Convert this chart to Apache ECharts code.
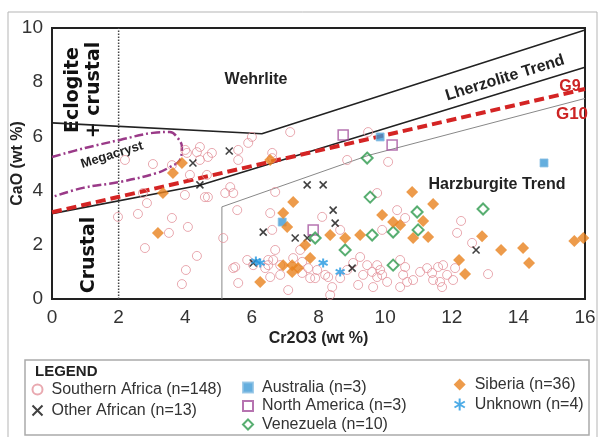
<!DOCTYPE html>
<html>
<head>
<meta charset="utf-8">
<script src="https://cdn.jsdelivr.net/npm/echarts@6/dist/echarts.min.js"></script>
<style>
  html, body { margin: 0; padding: 0; background: #fff; }
  #main { width: 604px; height: 437px; }
</style>
</head>
<body>
<div id="main"></div>
<script>
// garnet points, Cr2O3 (x) vs CaO (y), wt %
var southernAfrica = [
  [2.19,5.13],[3.03,4.98],[3.6,4.94],[4.14,4.58],[4.05,5.39],[4.35,5.42],[4.68,5.24],[4.65,4.58],
  [3.99,3.84],[4.59,3.76],[2.73,3.91],[2.85,3.54],[1.98,3.03],[2.58,3.14],[3.6,2.99],[4.08,2.66],
  [3.51,2.44],[2.79,1.88],[4.35,1.59],[4.02,1.07],[3.9,0.55],[4.0,5.5],
  [6.0,5.98],[5.89,5.76],[7.15,6.16],[9.49,6.16],[4.44,5.61],[4.8,5.39],[6.61,5.39],[5.59,5.5],
  [4.44,5.13],[5.59,5.13],[4.68,3.76],[5.14,2.25],[5.35,4.13],[5.2,3.91],[5.44,3.91],[6.61,5.2],
  [6.7,3.95],[6.55,3.17],[6.61,2.55],[5.56,3.28],[8.86,5.13],[10.09,5.06],[9.76,3.91],[10.36,3.28],
  [10.6,2.99],[9.91,2.55],[8.11,3.03],[8.65,2.55],[6.7,1.81],[7.45,1.81],[6.64,1.44],
  [5.44,1.14],[5.59,0.59],[5.86,1.44],[6.04,1.25],[6.49,1.25],[6.55,0.81],[6.85,0.89],[7.09,0.33],
  [7.24,1.51],[7.51,1.37],[7.75,0.77],[7.96,1.07],[8.2,0.89],[8.41,0.44],[8.35,0.15],[9.04,1.33],
  [9.25,1.55],[9.34,0.89],[9.61,1.0],[9.85,1.07],[9.76,0.81],[10.06,0.63],[9.64,0.44],[10.45,1.44],
  [10.54,0.89],[10.66,0.63],[10.84,0.7],[9.19,0.52],
  [5.5,1.18],[6.49,1.44],[6.4,1.14],[6.85,1.25],[7.51,0.96],[7.69,1.14],[7.9,0.77],[8.29,0.81],
  [8.65,0.77],[8.86,1.07],[9.46,1.25],[9.76,1.25],[9.91,0.89],
  [12.28,2.88],[12.16,2.44],[12.61,2.07],[13.09,0.92],[10.6,1.18],[11.26,1.14],[11.41,0.96],
  [11.59,1.18],[11.74,1.25],[11.44,0.7],[11.65,0.63],[11.71,0.44],[12.04,0.7],[12.1,1.14],
  [10.45,0.44],[11.05,1.0],[11.86,0.89]
];
var otherAfrican = [
  [4.23,5.02],[4.44,4.21],[5.32,5.46],[7.66,4.21],[8.14,4.21],[8.44,3.28],[8.5,2.8],
  [6.34,2.47],[7.3,2.25],[7.66,2.25],[6.04,1.33],[9.01,1.14],[12.73,1.81]
];
var australia = [[9.85,5.98],[6.91,2.84],[14.77,5.02]];
var northAmerica = [[8.74,6.05],[10.21,5.68],[7.84,2.55]];
var venezuela = [
  [9.46,5.2],[9.55,3.76],[10.96,3.21],[10.24,2.47],[9.61,2.36],
  [8.8,1.81],[10.24,1.25],[7.9,2.25],[10.99,2.55],[12.94,3.32]
];
var siberia = [
  [3.9,5.02],[3.63,4.65],[3.33,3.91],[3.18,2.44],[6.55,5.13],[7.24,3.58],[6.94,3.17],[7.06,2.66],
  [8.35,2.36],[7.6,1.99],[7.75,1.51],[6.94,1.25],[7.21,1.25],[7.39,1.14],[7.21,1.0],[6.25,0.63],
  [8.8,2.25],[9.25,2.36],[9.91,3.1],[10.24,2.84],[10.45,2.73],[10.84,2.25],[10.81,3.95],[11.44,3.51],
  [11.14,2.88],[11.29,2.29],[12.91,2.32],[12.22,1.44],[12.4,0.92],[13.48,1.81],[14.14,1.88],
  [14.32,1.33],[15.68,2.14],[15.95,2.25]
];
var unknown = [[6.25,1.33],[8.14,1.33],[8.65,1.0],[6.12,1.4]];

// field boundaries
var wehrliteLine = [[0,6.5],[6.3,6.1],[16,9.93]];
var lherzoliteLower = [[0,3.15],[4.44,4.2],[16,8.55]];
var g9g10Line = [[0,3.2],[16,7.75]];
var harzburgiteLine = [[5.1,0],[5.1,3.4],[9.5,5.3],[16,7.4]];
var crustalLine = [[2,0],[2,10]];
var megacryst = [
  [0,5.24],[0.99,5.57],[2.04,5.87],[3.03,6.13],[3.54,6.16],[3.75,5.98],[3.9,5.61],
  [3.84,5.13],[3.54,4.87],[3.15,4.65],[2.04,4.32],[0.93,4.1],[0,3.76]
];

var names = [
  'Southern Africa (n=148)', 'Other African (n=13)',
  'Australia (n=3)', 'North America (n=3)', 'Venezuela (n=10)',
  'Siberia (n=36)', 'Unknown (n=4)'
];

var font = 'Liberation Sans, Arial, sans-serif';
var myChart = echarts.init(document.getElementById('main'));

function boundary(data, color, width, type, z) {
  return {
    type: 'line', data: data, symbol: 'none', silent: true, z: z || 2,
    lineStyle: { color: color, width: width, type: type },
    animation: false
  };
}

var legendText = { fontSize: 16, lineHeight: 17, color: '#333', fontFamily: font, padding: [0, 0, 0, 4] };

var option = {
  backgroundColor: '#fff',
  animation: false,
  grid: {
    left: 52, top: 28, right: 19, bottom: 138, outerBoundsMode: 'none', containLabel: false,
    show: true, borderColor: '#222', borderWidth: 2
  },
  xAxis: {
    type: 'value', min: 0, max: 16, interval: 2,
    name: 'Cr2O3 (wt %)', nameLocation: 'middle', nameGap: 32, nameMoveOverlap: false,
    nameTextStyle: { fontSize: 16, fontWeight: 'bold', color: '#222', fontFamily: font },
    axisLine: { lineStyle: { color: '#222', width: 2 } },
    axisTick: { show: false },
    splitLine: { show: false },
    axisLabel: { fontSize: 19, color: '#333', fontFamily: font, margin: 9 }
  },
  yAxis: {
    type: 'value', min: 0, max: 10, interval: 2,
    name: 'CaO (wt %)', nameLocation: 'middle', nameGap: 26, nameMoveOverlap: false,
    nameTextStyle: { fontSize: 16, fontWeight: 'bold', color: '#222', fontFamily: font },
    axisLine: { show: true, lineStyle: { color: '#222', width: 2 } },
    axisTick: { show: false },
    splitLine: { show: false },
    axisLabel: { fontSize: 19, color: '#333', fontFamily: font, margin: 9 }
  },
  legend: [
    { data: names.slice(0, 2), orient: 'vertical', left: 30, top: 381, padding: 0, itemWidth: 10, itemHeight: 10, itemGap: 4, selectedMode: false, textStyle: legendText },
    { data: names.slice(2, 5), orient: 'vertical', left: 242, top: 379, padding: 0, itemWidth: 10, itemHeight: 10, itemGap: 1.5, selectedMode: false, textStyle: legendText },
    { data: names.slice(5, 7), orient: 'vertical', left: 452, top: 376, padding: 0, itemWidth: 12, itemHeight: 12, itemGap: 3, selectedMode: false, textStyle: legendText }
  ],
  graphic: [
    { type: 'rect', shape: { x: 8, y: 12, width: 589, height: 440 }, style: { fill: 'none', stroke: '#b5b5b5', lineWidth: 1 }, silent: true },
    { type: 'rect', shape: { x: 25, y: 360, width: 564, height: 75 }, style: { fill: 'none', stroke: '#aaa', lineWidth: 1.5 }, silent: true },
    { type: 'text', x: 35, y: 372, style: { text: 'LEGEND', font: 'bold 15px ' + font, fill: '#222', verticalAlign: 'middle' } },
    { type: 'text', x: 73, y: 90, rotation: Math.PI / 2, style: { text: 'Eclogite', font: 'bold 19px DejaVu Sans', fill: '#111', align: 'center', verticalAlign: 'middle' } },
    { type: 'text', x: 94, y: 90, rotation: Math.PI / 2, style: { text: '+ crustal', font: 'bold 19px DejaVu Sans', fill: '#111', align: 'center', verticalAlign: 'middle' } },
    { type: 'text', x: 89, y: 255, rotation: Math.PI / 2, style: { text: 'Crustal', font: 'bold 19px DejaVu Sans', fill: '#111', align: 'center', verticalAlign: 'middle' } },
    { type: 'text', x: 256, y: 80, style: { text: 'Wehrlite', font: 'bold 16px ' + font, fill: '#222', align: 'center', verticalAlign: 'middle' } },
    { type: 'text', x: 112, y: 155, rotation: 0.3, style: { text: 'Megacryst', font: 'bold 13px ' + font, fill: '#222', align: 'center', verticalAlign: 'middle' } },
    { type: 'text', x: 505, y: 78, rotation: 0.3, style: { text: 'Lherzolite Trend', font: 'bold 16px ' + font, fill: '#222', align: 'center', verticalAlign: 'middle' } },
    { type: 'text', x: 497, y: 185, style: { text: 'Harzburgite Trend', font: 'bold 16px ' + font, fill: '#222', align: 'center', verticalAlign: 'middle' } },
    { type: 'text', x: 570, y: 87, style: { text: 'G9', font: 'bold 16px ' + font, fill: '#cc2424', align: 'center', verticalAlign: 'middle' } },
    { type: 'text', x: 572, y: 114, style: { text: 'G10', font: 'bold 17px ' + font, fill: '#cc2424', align: 'center', verticalAlign: 'middle' } }
  ],
  series: [
    boundary(crustalLine, '#444', 1.5, 'dotted'),
    boundary(wehrliteLine, '#222', 1.6, 'solid'),
    boundary(lherzoliteLower, '#222', 1.6, 'solid'),
    boundary(harzburgiteLine, '#888', 1, 'solid'),
    Object.assign(boundary(megacryst, '#9a3a88', 2.5, [9, 3, 2, 3]), { smooth: 0.4 }),
    boundary(g9g10Line, '#d42424', 4, [10, 5], 3),
    {
      name: names[0], type: 'scatter', data: southernAfrica, symbol: 'circle', symbolSize: 9, z: 4,
      itemStyle: { color: 'rgba(255,255,255,0)', borderColor: '#e3949c', borderWidth: 1 }
    },
    {
      name: names[1], type: 'scatter', data: otherAfrican, symbol: 'path://M0,0L10,10M10,0L0,10', symbolSize: 7, z: 5,
      itemStyle: { color: 'none', borderColor: '#111', borderWidth: 1.6 }
    },
    {
      name: names[2], type: 'scatter', data: australia, symbol: 'rect', symbolSize: 8, z: 5,
      itemStyle: { color: '#3d9ad6', borderColor: '#8cc0e4', borderWidth: 1 }
    },
    {
      name: names[3], type: 'scatter', data: northAmerica, symbol: 'rect', symbolSize: 10, z: 5,
      itemStyle: { color: 'rgba(255,255,255,0)', borderColor: '#a4509c', borderWidth: 1.5 }
    },
    {
      name: names[4], type: 'scatter', data: venezuela, symbol: 'diamond', symbolSize: 11, z: 5,
      itemStyle: { color: 'rgba(255,255,255,0)', borderColor: '#2e9a4e', borderWidth: 2 }
    },
    {
      name: names[5], type: 'scatter', data: siberia, symbol: 'diamond', symbolSize: 12, z: 6,
      itemStyle: { color: '#e8821e' }
    },
    {
      name: names[6], type: 'scatter', data: unknown, symbol: 'path://M5,0L5,10M0.7,2.5L9.3,7.5M9.3,2.5L0.7,7.5', symbolSize: 9, z: 6,
      itemStyle: { color: 'none', borderColor: '#2196e0', borderWidth: 2 }
    }
  ]
};

option && myChart.setOption(option);
</script>
</body>
</html>
